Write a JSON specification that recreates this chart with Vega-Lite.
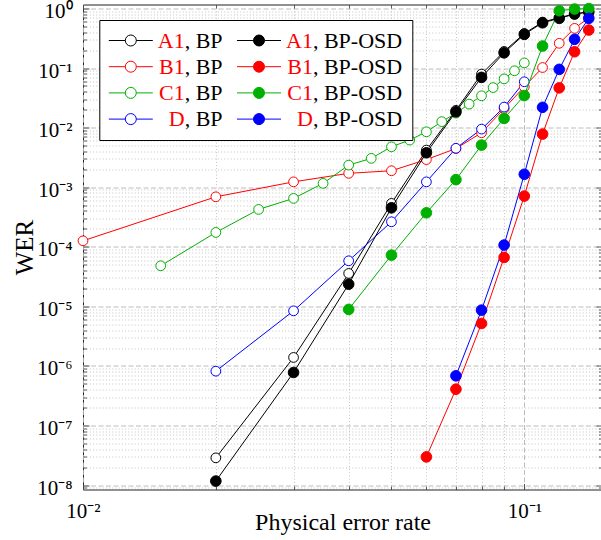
{
  "$schema": "https://vega.github.io/schema/vega-lite/v6.json",
  "width": 519,
  "height": 485,
  "autosize": {"type": "none"},
  "padding": {"left": 83, "top": 4.5, "right": 0, "bottom": 50.5},
  "background": "white",
  "config": {
    "view": {"stroke": "#222222", "strokeWidth": 1},
    "axis": {
      "labelFont": "Liberation Serif", "labelFontSize": 21, "labelColor": "black",
      "titleFont": "Liberation Serif", "titleFontWeight": "normal", "titleColor": "black",
      "domain": false, "tickColor": "#333333", "tickWidth": 0.8,
      "labelFlush": false, "labelOverlap": false, "labelBound": false
    },
    "legend": {"labelFont": "Liberation Serif", "labelFontSize": 22, "labelLimit": 400}
  },
  "data": {
    "values": [
      {"series": "A1, BP", "code": "A1", "dec": "BP", "p": 0.02, "wer": 2.87e-8},
      {"series": "A1, BP", "code": "A1", "dec": "BP", "p": 0.03, "wer": 1.39e-6},
      {"series": "A1, BP", "code": "A1", "dec": "BP", "p": 0.04, "wer": 3.57e-5},
      {"series": "A1, BP", "code": "A1", "dec": "BP", "p": 0.05, "wer": 5.35e-4},
      {"series": "A1, BP", "code": "A1", "dec": "BP", "p": 0.06, "wer": 4.2e-3},
      {"series": "A1, BP", "code": "A1", "dec": "BP", "p": 0.07, "wer": 0.0195},
      {"series": "A1, BP", "code": "A1", "dec": "BP", "p": 0.08, "wer": 0.0792},
      {"series": "A1, BP", "code": "A1", "dec": "BP", "p": 0.09, "wer": 0.19},
      {"series": "A1, BP", "code": "A1", "dec": "BP", "p": 0.10, "wer": 0.38},
      {"series": "A1, BP", "code": "A1", "dec": "BP", "p": 0.11, "wer": 0.59},
      {"series": "A1, BP", "code": "A1", "dec": "BP", "p": 0.12, "wer": 0.70},
      {"series": "A1, BP", "code": "A1", "dec": "BP", "p": 0.13, "wer": 0.81},
      {"series": "A1, BP", "code": "A1", "dec": "BP", "p": 0.14, "wer": 0.88},
      {"series": "A1, BP-OSD", "code": "A1", "dec": "BP-OSD", "p": 0.02, "wer": 1.17e-8},
      {"series": "A1, BP-OSD", "code": "A1", "dec": "BP-OSD", "p": 0.03, "wer": 7.78e-7},
      {"series": "A1, BP-OSD", "code": "A1", "dec": "BP-OSD", "p": 0.04, "wer": 2.36e-5},
      {"series": "A1, BP-OSD", "code": "A1", "dec": "BP-OSD", "p": 0.05, "wer": 4.51e-4},
      {"series": "A1, BP-OSD", "code": "A1", "dec": "BP-OSD", "p": 0.06, "wer": 3.78e-3},
      {"series": "A1, BP-OSD", "code": "A1", "dec": "BP-OSD", "p": 0.07, "wer": 0.01845},
      {"series": "A1, BP-OSD", "code": "A1", "dec": "BP-OSD", "p": 0.08, "wer": 0.0697},
      {"series": "A1, BP-OSD", "code": "A1", "dec": "BP-OSD", "p": 0.09, "wer": 0.180},
      {"series": "A1, BP-OSD", "code": "A1", "dec": "BP-OSD", "p": 0.10, "wer": 0.367},
      {"series": "A1, BP-OSD", "code": "A1", "dec": "BP-OSD", "p": 0.11, "wer": 0.575},
      {"series": "A1, BP-OSD", "code": "A1", "dec": "BP-OSD", "p": 0.12, "wer": 0.682},
      {"series": "A1, BP-OSD", "code": "A1", "dec": "BP-OSD", "p": 0.13, "wer": 0.805},
      {"series": "A1, BP-OSD", "code": "A1", "dec": "BP-OSD", "p": 0.14, "wer": 0.87},
      {"series": "B1, BP", "code": "B1", "dec": "BP", "p": 0.01, "wer": 1.26e-4},
      {"series": "B1, BP", "code": "B1", "dec": "BP", "p": 0.02, "wer": 6.9e-4},
      {"series": "B1, BP", "code": "B1", "dec": "BP", "p": 0.03, "wer": 1.23e-3},
      {"series": "B1, BP", "code": "B1", "dec": "BP", "p": 0.04, "wer": 1.71e-3},
      {"series": "B1, BP", "code": "B1", "dec": "BP", "p": 0.05, "wer": 1.89e-3},
      {"series": "B1, BP", "code": "B1", "dec": "BP", "p": 0.06, "wer": 2.91e-3},
      {"series": "B1, BP", "code": "B1", "dec": "BP", "p": 0.07, "wer": 4.45e-3},
      {"series": "B1, BP", "code": "B1", "dec": "BP", "p": 0.08, "wer": 8.2e-3},
      {"series": "B1, BP", "code": "B1", "dec": "BP", "p": 0.09, "wer": 0.0209},
      {"series": "B1, BP", "code": "B1", "dec": "BP", "p": 0.10, "wer": 0.0485},
      {"series": "B1, BP", "code": "B1", "dec": "BP", "p": 0.11, "wer": 0.102},
      {"series": "B1, BP", "code": "B1", "dec": "BP", "p": 0.12, "wer": 0.26},
      {"series": "B1, BP", "code": "B1", "dec": "BP", "p": 0.13, "wer": 0.463},
      {"series": "B1, BP", "code": "B1", "dec": "BP", "p": 0.14, "wer": 0.70},
      {"series": "B1, BP-OSD", "code": "B1", "dec": "BP-OSD", "p": 0.06, "wer": 2.98e-8},
      {"series": "B1, BP-OSD", "code": "B1", "dec": "BP-OSD", "p": 0.07, "wer": 4.08e-7},
      {"series": "B1, BP-OSD", "code": "B1", "dec": "BP-OSD", "p": 0.08, "wer": 5.17e-6},
      {"series": "B1, BP-OSD", "code": "B1", "dec": "BP-OSD", "p": 0.09, "wer": 6.63e-5},
      {"series": "B1, BP-OSD", "code": "B1", "dec": "BP-OSD", "p": 0.10, "wer": 7.1e-4},
      {"series": "B1, BP-OSD", "code": "B1", "dec": "BP-OSD", "p": 0.11, "wer": 7.79e-3},
      {"series": "B1, BP-OSD", "code": "B1", "dec": "BP-OSD", "p": 0.12, "wer": 0.0465},
      {"series": "B1, BP-OSD", "code": "B1", "dec": "BP-OSD", "p": 0.13, "wer": 0.1876},
      {"series": "B1, BP-OSD", "code": "B1", "dec": "BP-OSD", "p": 0.14, "wer": 0.434},
      {"series": "C1, BP", "code": "C1", "dec": "BP", "p": 0.015, "wer": 4.8e-5},
      {"series": "C1, BP", "code": "C1", "dec": "BP", "p": 0.02, "wer": 1.74e-4},
      {"series": "C1, BP", "code": "C1", "dec": "BP", "p": 0.025, "wer": 4.24e-4},
      {"series": "C1, BP", "code": "C1", "dec": "BP", "p": 0.03, "wer": 6.49e-4},
      {"series": "C1, BP", "code": "C1", "dec": "BP", "p": 0.035, "wer": 1.16e-3},
      {"series": "C1, BP", "code": "C1", "dec": "BP", "p": 0.04, "wer": 2.35e-3},
      {"series": "C1, BP", "code": "C1", "dec": "BP", "p": 0.045, "wer": 3.05e-3},
      {"series": "C1, BP", "code": "C1", "dec": "BP", "p": 0.05, "wer": 4.77e-3},
      {"series": "C1, BP", "code": "C1", "dec": "BP", "p": 0.055, "wer": 6.18e-3},
      {"series": "C1, BP", "code": "C1", "dec": "BP", "p": 0.06, "wer": 8.51e-3},
      {"series": "C1, BP", "code": "C1", "dec": "BP", "p": 0.065, "wer": 0.0126},
      {"series": "C1, BP", "code": "C1", "dec": "BP", "p": 0.07, "wer": 0.01754},
      {"series": "C1, BP", "code": "C1", "dec": "BP", "p": 0.075, "wer": 0.0248},
      {"series": "C1, BP", "code": "C1", "dec": "BP", "p": 0.08, "wer": 0.0342},
      {"series": "C1, BP", "code": "C1", "dec": "BP", "p": 0.085, "wer": 0.047},
      {"series": "C1, BP", "code": "C1", "dec": "BP", "p": 0.09, "wer": 0.0658},
      {"series": "C1, BP", "code": "C1", "dec": "BP", "p": 0.095, "wer": 0.090},
      {"series": "C1, BP", "code": "C1", "dec": "BP", "p": 0.10, "wer": 0.122},
      {"series": "C1, BP-OSD", "code": "C1", "dec": "BP-OSD", "p": 0.04, "wer": 8.89e-6},
      {"series": "C1, BP-OSD", "code": "C1", "dec": "BP-OSD", "p": 0.05, "wer": 7.25e-5},
      {"series": "C1, BP-OSD", "code": "C1", "dec": "BP-OSD", "p": 0.06, "wer": 3.72e-4},
      {"series": "C1, BP-OSD", "code": "C1", "dec": "BP-OSD", "p": 0.07, "wer": 1.34e-3},
      {"series": "C1, BP-OSD", "code": "C1", "dec": "BP-OSD", "p": 0.08, "wer": 5.09e-3},
      {"series": "C1, BP-OSD", "code": "C1", "dec": "BP-OSD", "p": 0.09, "wer": 0.01429},
      {"series": "C1, BP-OSD", "code": "C1", "dec": "BP-OSD", "p": 0.10, "wer": 0.0345},
      {"series": "C1, BP-OSD", "code": "C1", "dec": "BP-OSD", "p": 0.11, "wer": 0.234},
      {"series": "C1, BP-OSD", "code": "C1", "dec": "BP-OSD", "p": 0.12, "wer": 0.915},
      {"series": "C1, BP-OSD", "code": "C1", "dec": "BP-OSD", "p": 0.13, "wer": 0.977},
      {"series": "C1, BP-OSD", "code": "C1", "dec": "BP-OSD", "p": 0.14, "wer": 0.995},
      {"series": "D, BP", "code": "D", "dec": "BP", "p": 0.02, "wer": 8.18e-7},
      {"series": "D, BP", "code": "D", "dec": "BP", "p": 0.03, "wer": 8.42e-6},
      {"series": "D, BP", "code": "D", "dec": "BP", "p": 0.04, "wer": 5.82e-5},
      {"series": "D, BP", "code": "D", "dec": "BP", "p": 0.05, "wer": 2.63e-4},
      {"series": "D, BP", "code": "D", "dec": "BP", "p": 0.06, "wer": 1.23e-3},
      {"series": "D, BP", "code": "D", "dec": "BP", "p": 0.07, "wer": 4.5e-3},
      {"series": "D, BP", "code": "D", "dec": "BP", "p": 0.08, "wer": 9.45e-3},
      {"series": "D, BP", "code": "D", "dec": "BP", "p": 0.09, "wer": 0.0221},
      {"series": "D, BP", "code": "D", "dec": "BP", "p": 0.10, "wer": 0.0588},
      {"series": "D, BP-OSD", "code": "D", "dec": "BP-OSD", "p": 0.07, "wer": 6.83e-7},
      {"series": "D, BP-OSD", "code": "D", "dec": "BP-OSD", "p": 0.08, "wer": 8.65e-6},
      {"series": "D, BP-OSD", "code": "D", "dec": "BP-OSD", "p": 0.09, "wer": 1.07e-4},
      {"series": "D, BP-OSD", "code": "D", "dec": "BP-OSD", "p": 0.10, "wer": 1.65e-3},
      {"series": "D, BP-OSD", "code": "D", "dec": "BP-OSD", "p": 0.11, "wer": 0.0219},
      {"series": "D, BP-OSD", "code": "D", "dec": "BP-OSD", "p": 0.12, "wer": 0.095},
      {"series": "D, BP-OSD", "code": "D", "dec": "BP-OSD", "p": 0.13, "wer": 0.303},
      {"series": "D, BP-OSD", "code": "D", "dec": "BP-OSD", "p": 0.14, "wer": 0.682}
    ]
  },
  "encoding": {
    "stroke": {
      "field": "series", "type": "nominal",
      "scale": {
        "domain": ["A1, BP", "A1, BP-OSD", "B1, BP", "B1, BP-OSD", "C1, BP", "C1, BP-OSD", "D, BP", "D, BP-OSD"],
        "range": ["#000000", "#000000", "#ff0000", "#ff0000", "#00b000", "#00b000", "#0000ff", "#0000ff"]
      },
      "legend": {
        "orient": "none", "legendX": 16.3, "legendY": 15.5, "title": null, "direction": "horizontal",
        "columns": 2, "columnPadding": 11.2, "rowPadding": 4.2, "padding": 9.5,
        "fillColor": "white", "strokeColor": "black",
        "symbolType": "M-3.667,0L-0.917,0M0.917,0L3.667,0M0.917,0A0.917,0.917,0,1,1,-0.917,0A0.917,0.917,0,1,1,0.917,0Z",
        "symbolSize": 144, "symbolStrokeWidth": 1, "symbolOffset": 11,
        "labelOffset": 42.9, "labelColor": "black", "zindex": 0,
        "labelExpr": "slice(datum.label, indexof(datum.label, ','))"
      }
    }
  },
  "layer": [
    {
      "transform": [{"filter": "datum.dec === 'BP'"}],
      "mark": {"type": "line", "strokeWidth": 1},
      "encoding": {
        "x": {
          "field": "p", "type": "quantitative",
          "scale": {"type": "log", "domain": [0.01, 0.15], "nice": false},
          "axis": {
            "orient": "bottom", "values": [0.01, 0.1],
            "labelExpr": "['10⁰','10⁻¹','10⁻²','10⁻³','10⁻⁴','10⁻⁵','10⁻⁶','10⁻⁷','10⁻⁸'][round(-log(datum.value)/LN10)]",
            "labelPadding": 17, "labelBaseline": "top", "tickSize": -6,
            "grid": true, "gridColor": "#b4b4b4", "gridDash": [5, 2.5], "gridWidth": 0.9,
            "title": "Physical error rate", "titleFontSize": 24, "titleY": 40, "titleBaseline": "alphabetic"
          }
        },
        "y": {
          "field": "wer", "type": "quantitative",
          "scale": {"type": "log", "domain": [8.45e-9, 1.165], "nice": false},
          "axis": {
            "orient": "left", "values": [1e-8, 1e-7, 1e-6, 1e-5, 1e-4, 0.001, 0.01, 0.1, 1],
            "labelExpr": "['10⁰','10⁻¹','10⁻²','10⁻³','10⁻⁴','10⁻⁵','10⁻⁶','10⁻⁷','10⁻⁸'][round(-log(datum.value)/LN10)]",
            "labelPadding": 17, "labelOffset": 3, "tickSize": -6,
            "grid": true, "gridColor": "#b4b4b4", "gridDash": [5, 2.5], "gridWidth": 0.9,
            "title": "WER", "titleFontSize": 25, "titleX": -51, "titleY": 242.5, "titleAngle": -90,
            "titleAlign": "center", "titleBaseline": "alphabetic"
          }
        }
      }
    },
    {
      "transform": [{"filter": "datum.dec === 'BP'"}],
      "mark": {"type": "circle", "size": 95, "strokeWidth": 1, "opacity": 1},
      "encoding": {
        "x": {
          "field": "p", "type": "quantitative",
          "scale": {"type": "log", "domain": [0.01, 0.15], "nice": false},
          "axis": {
            "orient": "bottom", "values": [0.02, 0.03, 0.04, 0.05, 0.06, 0.07, 0.08, 0.09],
            "labels": false, "tickSize": -3.5, "title": null,
            "grid": true, "gridColor": "#bdbdbd", "gridDash": [1, 2.2], "gridWidth": 0.9
          }
        },
        "y": {
          "field": "wer", "type": "quantitative",
          "scale": {"type": "log", "domain": [8.45e-9, 1.165], "nice": false},
          "axis": {
            "orient": "left",
            "values": [9e-9, 2e-8, 3e-8, 4e-8, 5e-8, 6e-8, 7e-8, 8e-8, 9e-8, 2e-7, 3e-7, 4e-7, 5e-7, 6e-7, 7e-7, 8e-7, 9e-7, 2e-6, 3e-6, 4e-6, 5e-6, 6e-6, 7e-6, 8e-6, 9e-6, 2e-5, 3e-5, 4e-5, 5e-5, 6e-5, 7e-5, 8e-5, 9e-5, 2e-4, 3e-4, 4e-4, 5e-4, 6e-4, 7e-4, 8e-4, 9e-4, 0.002, 0.003, 0.004, 0.005, 0.006, 0.007, 0.008, 0.009, 0.02, 0.03, 0.04, 0.05, 0.06, 0.07, 0.08, 0.09, 0.2, 0.3, 0.4, 0.5, 0.6, 0.7, 0.8, 0.9],
            "labels": false, "tickSize": -3.5, "title": null,
            "grid": true, "gridColor": "#bdbdbd", "gridDash": [1, 2.2], "gridWidth": 0.9
          }
        },
        "fill": {
          "field": "series", "type": "nominal",
          "scale": {
            "domain": ["A1, BP", "A1, BP-OSD", "B1, BP", "B1, BP-OSD", "C1, BP", "C1, BP-OSD", "D, BP", "D, BP-OSD"],
            "range": ["#ffffff", "#000000", "#ffffff", "#ff0000", "#ffffff", "#00b000", "#ffffff", "#0000ff"]
          },
          "legend": {
            "orient": "none", "legendX": 16.3, "legendY": 15.5, "title": null, "direction": "horizontal",
            "columns": 2, "columnPadding": 11.2, "rowPadding": 4.2, "padding": 9.5,
            "fillColor": "white", "strokeColor": "black",
            "symbolType": "M-3.667,0L-0.917,0M0.917,0L3.667,0M0.917,0A0.917,0.917,0,1,1,-0.917,0A0.917,0.917,0,1,1,0.917,0Z",
            "symbolSize": 144, "symbolStrokeWidth": 1, "symbolOffset": 11,
            "labelOffset": 42.9, "labelColor": "black", "zindex": 0,
            "labelExpr": "slice(datum.label, indexof(datum.label, ','))"
          }
        }
      }
    },
    {
      "transform": [{"filter": "datum.dec === 'BP-OSD'"}],
      "mark": {"type": "line", "strokeWidth": 1},
      "encoding": {
        "x": {
          "field": "p", "type": "quantitative",
          "scale": {"type": "log", "domain": [0.01, 0.15], "nice": false},
          "axis": {"orient": "top", "values": [0.01, 0.1], "labels": false, "tickSize": -6, "grid": false, "title": null}
        },
        "y": {
          "field": "wer", "type": "quantitative",
          "scale": {"type": "log", "domain": [8.45e-9, 1.165], "nice": false},
          "axis": {"orient": "right", "values": [1e-8, 1e-7, 1e-6, 1e-5, 1e-4, 0.001, 0.01, 0.1, 1], "labels": false, "tickSize": -6, "grid": false, "title": null}
        }
      }
    },
    {
      "transform": [{"filter": "datum.dec === 'BP-OSD'"}],
      "mark": {"type": "circle", "size": 113, "strokeWidth": 1, "opacity": 1},
      "encoding": {
        "x": {
          "field": "p", "type": "quantitative",
          "scale": {"type": "log", "domain": [0.01, 0.15], "nice": false},
          "axis": {"orient": "top", "values": [0.02, 0.03, 0.04, 0.05, 0.06, 0.07, 0.08, 0.09], "labels": false, "tickSize": -3.5, "grid": false, "title": null}
        },
        "y": {
          "field": "wer", "type": "quantitative",
          "scale": {"type": "log", "domain": [8.45e-9, 1.165], "nice": false},
          "axis": {
            "orient": "right",
            "values": [9e-9, 2e-8, 3e-8, 4e-8, 5e-8, 6e-8, 7e-8, 8e-8, 9e-8, 2e-7, 3e-7, 4e-7, 5e-7, 6e-7, 7e-7, 8e-7, 9e-7, 2e-6, 3e-6, 4e-6, 5e-6, 6e-6, 7e-6, 8e-6, 9e-6, 2e-5, 3e-5, 4e-5, 5e-5, 6e-5, 7e-5, 8e-5, 9e-5, 2e-4, 3e-4, 4e-4, 5e-4, 6e-4, 7e-4, 8e-4, 9e-4, 0.002, 0.003, 0.004, 0.005, 0.006, 0.007, 0.008, 0.009, 0.02, 0.03, 0.04, 0.05, 0.06, 0.07, 0.08, 0.09, 0.2, 0.3, 0.4, 0.5, 0.6, 0.7, 0.8, 0.9],
            "labels": false, "tickSize": -3.5, "grid": false, "title": null
          }
        },
        "fill": {
          "field": "series", "type": "nominal",
          "scale": {
            "domain": ["A1, BP", "A1, BP-OSD", "B1, BP", "B1, BP-OSD", "C1, BP", "C1, BP-OSD", "D, BP", "D, BP-OSD"],
            "range": ["#ffffff", "#000000", "#ffffff", "#ff0000", "#ffffff", "#00b000", "#ffffff", "#0000ff"]
          },
          "legend": {
            "orient": "none", "legendX": 16.3, "legendY": 15.5, "title": null, "direction": "horizontal",
            "columns": 2, "columnPadding": 11.2, "rowPadding": 4.2, "padding": 9.5,
            "fillColor": "white", "strokeColor": "black",
            "symbolType": "M-3.667,0L-0.917,0M0.917,0L3.667,0M0.917,0A0.917,0.917,0,1,1,-0.917,0A0.917,0.917,0,1,1,0.917,0Z",
            "symbolSize": 144, "symbolStrokeWidth": 1, "symbolOffset": 11,
            "labelOffset": 42.9, "labelColor": "black", "zindex": 0,
            "labelExpr": "slice(datum.label, indexof(datum.label, ','))"
          }
        }
      }
    },
    {
      "mark": {"type": "point", "opacity": 0, "filled": false},
      "encoding": {
        "x": {"field": "p", "type": "quantitative", "scale": {"type": "log", "domain": [0.01, 0.15], "nice": false}, "axis": null},
        "y": {"field": "wer", "type": "quantitative", "scale": {"type": "log", "domain": [8.45e-9, 1.165], "nice": false}, "axis": null},
        "shape": {
          "field": "series", "type": "nominal",
          "scale": {"range": [
            "M-3.667,0L-0.917,0M0.917,0L3.667,0M0.917,0A0.917,0.917,0,1,1,-0.917,0A0.917,0.917,0,1,1,0.917,0Z",
            "M-3.667,0L-0.917,0M0.917,0L3.667,0M0.917,0A0.917,0.917,0,1,1,-0.917,0A0.917,0.917,0,1,1,0.917,0Z",
            "M-3.667,0L-0.917,0M0.917,0L3.667,0M0.917,0A0.917,0.917,0,1,1,-0.917,0A0.917,0.917,0,1,1,0.917,0Z",
            "M-3.667,0L-0.917,0M0.917,0L3.667,0M0.917,0A0.917,0.917,0,1,1,-0.917,0A0.917,0.917,0,1,1,0.917,0Z",
            "M-3.667,0L-0.917,0M0.917,0L3.667,0M0.917,0A0.917,0.917,0,1,1,-0.917,0A0.917,0.917,0,1,1,0.917,0Z",
            "M-3.667,0L-0.917,0M0.917,0L3.667,0M0.917,0A0.917,0.917,0,1,1,-0.917,0A0.917,0.917,0,1,1,0.917,0Z",
            "M-3.667,0L-0.917,0M0.917,0L3.667,0M0.917,0A0.917,0.917,0,1,1,-0.917,0A0.917,0.917,0,1,1,0.917,0Z",
            "M-3.667,0L-0.917,0M0.917,0L3.667,0M0.917,0A0.917,0.917,0,1,1,-0.917,0A0.917,0.917,0,1,1,0.917,0Z"
          ]},
          "legend": {
            "orient": "none", "legendX": 16.3, "legendY": 15.5, "title": null, "direction": "horizontal",
            "columns": 2, "columnPadding": 51.2, "rowPadding": 4.2, "padding": 9.5,
            "symbolOpacity": 0, "symbolSize": 144, "symbolStrokeWidth": 1, "symbolOffset": 11,
            "labelOffset": 42.9, "labelAlign": "right", "labelColor": "#ff0000",
            "labelExpr": "split(datum.label, ',')[0]", "zindex": 1
          }
        }
      }
    }
  ],
  "resolve": {"axis": {"x": "independent", "y": "independent"}}
}
